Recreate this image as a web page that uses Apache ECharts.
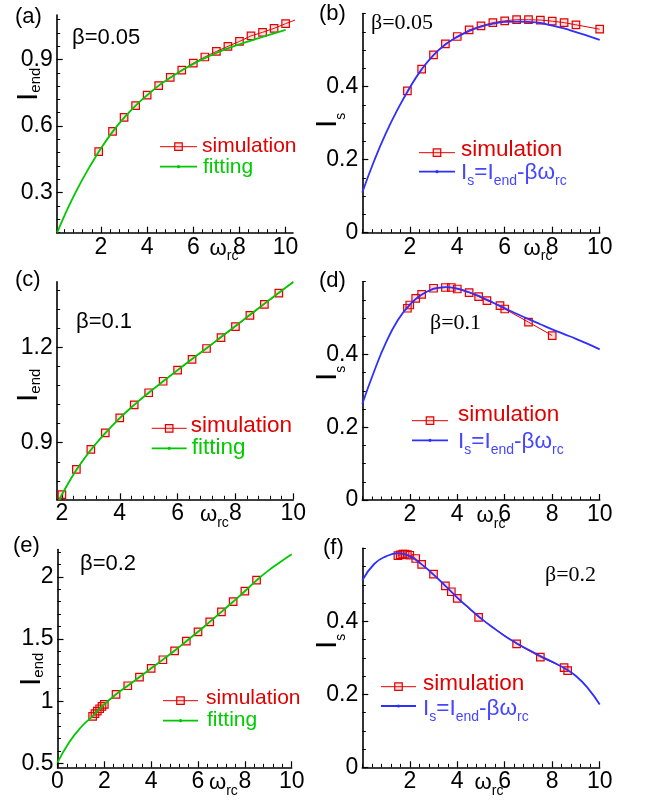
<!DOCTYPE html>
<html>
<head>
<meta charset="utf-8">
<script src="https://cdn.jsdelivr.net/npm/echarts@6/dist/echarts.min.js"></script>
<style>
  html, body { margin: 0; padding: 0; background: #fff; }
  #chart { width: 646px; height: 802px; }
</style>
</head>
<body>
<div id="chart"></div>
<script>
// ---------------- data ----------------
// (a) beta = 0.05 : I_end vs omega_rc
const simA_x = [1.9, 2.5, 3, 3.5, 4, 4.5, 5, 5.5, 6, 6.5, 7, 7.5, 8, 8.5, 9, 9.5, 10, 10.5];
const simA_y = [0.485, 0.576, 0.639, 0.692, 0.739, 0.782, 0.819, 0.852, 0.883, 0.911, 0.936, 0.959, 0.981, 1.006, 1.022, 1.040, 1.061, 1.081];
const fitA_x = [0.1, 0.5, 1, 1.5, 2, 2.5, 3, 3.5, 4, 4.5, 5, 5.5, 6, 6.5, 7, 7.5, 8, 8.5, 9, 9.5, 10];
const fitA_y = [0.12, 0.216, 0.322, 0.415, 0.500, 0.574, 0.637, 0.692, 0.739, 0.782, 0.818, 0.850, 0.880, 0.906, 0.929, 0.950, 0.968, 0.985, 1.001, 1.017, 1.033];

// (b) beta = 0.05 : I_s vs omega_rc
const simB_x = [1.9, 2.5, 3, 3.5, 4, 4.5, 5, 5.5, 6, 6.5, 7, 7.5, 8, 8.5, 9, 10];
const simB_y = [0.388, 0.448, 0.487, 0.517, 0.537, 0.555, 0.566, 0.575, 0.580, 0.583, 0.583, 0.582, 0.579, 0.575, 0.569, 0.557];
const fitB_x = [0, 0.5, 1, 1.5, 2, 2.5, 3, 3.5, 4, 4.5, 5, 5.5, 6, 6.5, 7, 7.5, 8, 8.5, 9, 9.5, 10];
const fitB_y = [0.110, 0.197, 0.273, 0.339, 0.397, 0.447, 0.486, 0.515, 0.536, 0.552, 0.564, 0.572, 0.577, 0.578, 0.577, 0.574, 0.567, 0.559, 0.549, 0.539, 0.528];

// (c) beta = 0.1 : I_end vs omega_rc
const simC_x = [1.9, 2.0, 2.5, 3, 3.5, 4, 4.5, 5, 5.5, 6, 6.5, 7, 7.5, 8, 8.5, 9, 9.5, 10];
const simC_y = [0.717, 0.737, 0.816, 0.879, 0.931, 0.978, 1.019, 1.057, 1.093, 1.128, 1.162, 1.196, 1.230, 1.265, 1.300, 1.335, 1.370, 1.407];
const fitC_x = [1.9, 2, 2.5, 3, 3.5, 4, 4.5, 5, 5.5, 6, 6.5, 7, 7.5, 8, 8.5, 9, 9.5, 10];
const fitC_y = [0.717, 0.737, 0.814, 0.877, 0.930, 0.977, 1.019, 1.057, 1.093, 1.128, 1.163, 1.197, 1.232, 1.267, 1.302, 1.337, 1.371, 1.405];

// (d) beta = 0.1 : I_s vs omega_rc
const simD_x = [1.9, 2.0, 2.25, 2.5, 3.0, 3.5, 3.75, 4.0, 4.5, 4.9, 5.25, 5.8, 6.0, 7.0, 8.0];
const simD_y = [0.527, 0.536, 0.554, 0.565, 0.582, 0.584, 0.584, 0.580, 0.570, 0.559, 0.548, 0.534, 0.525, 0.489, 0.452];
const fitD_x = [0, 0.5, 1, 1.5, 2, 2.5, 3, 3.5, 4, 4.5, 5, 5.5, 6, 6.5, 7, 7.5, 8, 8.5, 9, 9.5, 10];
const fitD_y = [0.264, 0.354, 0.433, 0.495, 0.537, 0.564, 0.580, 0.585, 0.581, 0.571, 0.558, 0.543, 0.527, 0.512, 0.497, 0.483, 0.469, 0.456, 0.443, 0.429, 0.414];

// (e) beta = 0.2 : I_end vs omega_rc
const simE_x = [1.5, 1.6, 1.7, 1.8, 1.9, 2.0, 2.5, 3, 3.5, 4, 4.5, 5, 5.5, 6, 6.5, 7, 7.5, 8, 8.5];
const simE_y = [0.878, 0.899, 0.920, 0.939, 0.958, 0.974, 1.055, 1.124, 1.194, 1.264, 1.333, 1.405, 1.483, 1.558, 1.638, 1.719, 1.800, 1.885, 1.973];
const fitE_x = [0, 0.5, 1, 1.5, 2, 2.5, 3, 3.5, 4, 4.5, 5, 5.5, 6, 6.5, 7, 7.5, 8, 8.5, 9, 9.5, 10];
const fitE_y = [0.505, 0.67, 0.79, 0.88, 0.975, 1.055, 1.124, 1.194, 1.264, 1.334, 1.405, 1.482, 1.558, 1.638, 1.718, 1.800, 1.884, 1.972, 2.05, 2.118, 2.182];

// (f) beta = 0.2 : I_s vs omega_rc
const simF_x = [1.5, 1.6, 1.7, 1.8, 1.9, 2.0, 2.25, 2.5, 3.0, 3.5, 3.75, 4.0, 4.9, 6.5, 7.5, 8.5, 8.65];
const simF_y = [0.580, 0.582, 0.584, 0.584, 0.583, 0.581, 0.572, 0.556, 0.529, 0.497, 0.481, 0.463, 0.411, 0.338, 0.302, 0.273, 0.265];
const fitF_x = [0, 0.5, 1, 1.5, 2, 2.5, 3, 3.5, 4, 4.5, 5, 5.5, 6, 6.5, 7, 7.5, 8, 8.5, 9, 9.5, 10];
const fitF_y = [0.512, 0.557, 0.578, 0.586, 0.578, 0.556, 0.528, 0.497, 0.465, 0.436, 0.408, 0.383, 0.360, 0.340, 0.322, 0.305, 0.289, 0.272, 0.250, 0.217, 0.172];

// tick labels
const xLabelsA = [2, 4, 6, 8, 10];
const yLabelsA = [0.3, 0.6, 0.9];
const xLabelsB = [2, 4, 6, 8, 10];
const yLabelsB = [0, 0.2, 0.4];
const xLabelsC = [2, 4, 6, 8, 10];
const yLabelsC = [0.9, 1.2];
const xLabelsD = [2, 4, 6, 8, 10];
const yLabelsD = [0, 0.2, 0.4];
const xLabelsE = [0, 2, 4, 6, 8, 10];
const yLabelsE = [0.5, 1, 1.5, 2];
const xLabelsF = [2, 4, 6, 8, 10];
const yLabelsF = [0, 0.2, 0.4];

const panelTags = ['(a)', '(b)', '(c)', '(d)', '(e)', '(f)'];
const betaTexts = ['\u03b2=0.05', '\u03b2=0.05', '\u03b2=0.1', '\u03b2=0.1', '\u03b2=0.2', '\u03b2=0.2'];

// ---------------- styling ----------------
const SANS = '"Liberation Sans", Arial, Helvetica, sans-serif';
const SERIF = '"Liberation Serif", "Times New Roman", serif';
const RED = '#e00000';
const GREEN = '#00c800';
const BLUE = '#2f2fff';
const BLUE_TXT = '#4646ff';

// panel frames, axis ranges and minor-tick steps
const panels = [
  { grid: { left: 56.7, top: 15, width: 236.3, height: 217.7 },  x: [0.08, 10.32], y: [0.12, 1.10],  xl: xLabelsA, yl: yLabelsA, xs: 0.4, ys: 0.06 },
  { grid: { left: 362.3, top: 13.5, width: 237.4, height: 219.2 }, x: [0, 10], y: [0, 0.6],        xl: xLabelsB, yl: yLabelsB, xs: 0.4, ys: 0.05 },
  { grid: { left: 56.7, top: 281.7, width: 236.6, height: 217.6 }, x: [1.82, 10], y: [0.722, 1.406], xl: xLabelsC, yl: yLabelsC, xs: 0.4, ys: 0.06 },
  { grid: { left: 362.3, top: 281.7, width: 237.4, height: 218.3 }, x: [0, 10], y: [0, 0.6],        xl: xLabelsD, yl: yLabelsD, xs: 0.4, ys: 0.05 },
  { grid: { left: 57.5, top: 549.5, width: 234.2, height: 217.8 }, x: [0, 10], y: [0.468, 2.22],   xl: xLabelsE, yl: yLabelsE, xs: 0.4, ys: 0.1 },
  { grid: { left: 362.3, top: 548.3, width: 237.4, height: 219 },  x: [0, 10], y: [0, 0.6],        xl: xLabelsF, yl: yLabelsF, xs: 0.4, ys: 0.05 }
];

function stepValues(min, max, step) {
  const out = [];
  for (let k = Math.ceil(min / step - 1e-6); k * step <= max + 1e-9; k++) {
    out.push(Math.round(k * step * 1e6) / 1e6);
  }
  return out;
}

function makeAxes(isX, gi, p) {
  const range = isX ? p.x : p.y;
  const labels = isX ? p.xl : p.yl;
  const step = isX ? p.xs : p.ys;
  const base = {
    type: 'value', gridIndex: gi, min: range[0], max: range[1],
    position: isX ? 'bottom' : 'left', splitLine: { show: false }
  };
  const major = Object.assign({}, base, {
    axisLine: { show: true, onZero: false, lineStyle: { color: '#000', width: 1.6 } },
    axisTick: { show: true, inside: true, length: 6, customValues: labels, lineStyle: { color: '#000', width: 1.2 } },
    axisLabel: {
      show: true, customValues: labels, margin: isX ? 3 : 4,
      color: '#000', fontSize: 23, fontFamily: SANS,
      formatter: function (v) { return String(v); }
    }
  });
  const minor = Object.assign({}, base, {
    axisLine: { show: false, onZero: false },
    axisTick: { show: true, inside: true, length: 3.5, customValues: stepValues(range[0], range[1], step), lineStyle: { color: '#000', width: 1 } },
    axisLabel: { show: false }
  });
  return [major, minor];
}

const xAxes = [], yAxes = [];
panels.forEach(function (p, i) {
  xAxes.push.apply(xAxes, makeAxes(true, i, p));
  yAxes.push.apply(yAxes, makeAxes(false, i, p));
});

function pairs(xs, ys) { return xs.map(function (x, i) { return [x, ys[i]]; }); }

function simSeries(gi, xs, ys) {
  return {
    type: 'line', name: 'simulation', xAxisIndex: 2 * gi, yAxisIndex: 2 * gi,
    data: pairs(xs, ys), symbol: 'rect', symbolSize: 7.5, clip: true,
    lineStyle: { color: RED, width: 1 },
    itemStyle: { color: 'rgba(255,90,90,0.18)', borderColor: RED, borderWidth: 1.2 },
    emphasis: { disabled: true }, z: 2
  };
}
function fitSeries(gi, xs, ys, color, name) {
  return {
    type: 'line', name: name, xAxisIndex: 2 * gi, yAxisIndex: 2 * gi,
    data: pairs(xs, ys), smooth: true, symbol: 'none', clip: true,
    lineStyle: { color: color, width: 1.8 },
    emphasis: { disabled: true }, z: 3
  };
}

const series = [
  simSeries(0, simA_x, simA_y), fitSeries(0, fitA_x, fitA_y, GREEN, 'fitting'),
  simSeries(1, simB_x, simB_y), fitSeries(1, fitB_x, fitB_y, BLUE, 'Is'),
  simSeries(2, simC_x, simC_y), fitSeries(2, fitC_x, fitC_y, GREEN, 'fitting'),
  simSeries(3, simD_x, simD_y), fitSeries(3, fitD_x, fitD_y, BLUE, 'Is'),
  simSeries(4, simE_x, simE_y), fitSeries(4, fitE_x, fitE_y, GREEN, 'fitting'),
  simSeries(5, simF_x, simF_y), fitSeries(5, fitF_x, fitF_y, BLUE, 'Is')
];

// ---------------- text helpers ----------------
const measureCtx = document.createElement('canvas').getContext('2d');
function textWidth(t, size, fam) {
  measureCtx.font = size + 'px ' + fam;
  return measureCtx.measureText(t).width;
}
// pieces share one baseline (local y = 0); dy shifts subscripts down
function runChildren(pieces, color, fam) {
  const out = [];
  let cx = 0;
  pieces.forEach(function (p) {
    out.push({
      type: 'text', x: cx, y: (p.dy || 0) - 0.35 * p.size, silent: true,
      style: { text: p.t, fill: color, font: p.size + 'px ' + fam, align: 'left', verticalAlign: 'middle' }
    });
    cx += textWidth(p.t, p.size, fam);
  });
  return out;
}
function textRun(x, baseline, pieces, color, fam) {
  return { type: 'group', x: x, y: baseline, children: runChildren(pieces, color, fam) };
}
function verticalRun(xBase, yStart, pieces, color, fam) {
  return { type: 'group', x: xBase, y: yStart, rotation: Math.PI / 2, children: runChildren(pieces, color, fam) };
}
function plainText(x, yMid, t, size, fam, color) {
  return { type: 'text', x: x, y: yMid, silent: true,
    style: { text: t, fill: color || '#000', font: size + 'px ' + fam, align: 'left', verticalAlign: 'middle' } };
}

const graphics = [];

// panel tags
[[15, 16.5], [319, 14], [15, 280], [319, 281], [13, 546], [323, 548]].forEach(function (pos, i) {
  graphics.push(plainText(pos[0], pos[1], panelTags[i], 22, SANS));
});

// beta annotations
graphics.push(plainText(72, 37.5, betaTexts[0], 22, SANS));
graphics.push(plainText(371, 23, betaTexts[1], 22, SERIF));
graphics.push(plainText(76, 322, betaTexts[2], 22, SANS));
graphics.push(plainText(430, 323, betaTexts[3], 22, SERIF));
graphics.push(plainText(80, 563.5, betaTexts[4], 22, SANS));
graphics.push(plainText(545, 575, betaTexts[5], 22, SERIF));

// x-axis titles: omega_rc
function omegaTitle(left, axisY) {
  return textRun(left, axisY + 23.7, [{ t: '\u03c9', size: 22 }, { t: 'rc', size: 14, dy: 5 }], '#000', SANS);
}
[[209.6, 232.7], [523.6, 232.7], [200, 499.3], [476.6, 500], [209, 767.3], [474.6, 767.3]].forEach(function (q) {
  graphics.push(omegaTitle(q[0], q[1]));
});

// y-axis titles
const endTitle = [{ t: 'I', size: 30 }, { t: 'end', size: 15, dy: 2 }];
const sTitle = [{ t: 'I', size: 30 }, { t: 's', size: 14, dy: 8 }];
graphics.push(verticalRun(39, 101, endTitle, '#000', SANS));
graphics.push(verticalRun(39, 402, endTitle, '#000', SANS));
graphics.push(verticalRun(42, 686, endTitle, '#000', SANS));
graphics.push(verticalRun(338, 128, sTitle, '#000', SANS));
graphics.push(verticalRun(338, 381, sTitle, '#000', SANS));
graphics.push(verticalRun(338, 649, sTitle, '#000', SANS));

// legends
function legendLine(x1, x2, y, color, width) {
  return { type: 'line', silent: true, shape: { x1: x1, y1: y, x2: x2, y2: y }, style: { stroke: color, lineWidth: width } };
}
function legendSquare(cx, cy) {
  return { type: 'rect', silent: true, shape: { x: cx - 3.75, y: cy - 3.75, width: 7.5, height: 7.5 },
    style: { fill: 'rgba(255,90,90,0.18)', stroke: RED, lineWidth: 1.2 } };
}
function legendDot(cx, cy, color) {
  return { type: 'circle', silent: true, shape: { cx: cx, cy: cy, r: 1.6 }, style: { fill: color } };
}
const blueLabel = function (size) {
  return [
    { t: 'I', size: size }, { t: 's', size: 14, dy: 5.5 },
    { t: '=I', size: size }, { t: 'end', size: 14, dy: 5.5 },
    { t: '-\u03b2\u03c9', size: size }, { t: 'rc', size: 14, dy: 5.5 }
  ];
};
// entries: [lineX1, lineX2, redY, otherY, textLeft, simMid, otherMid, fontSize, kind]
const legends = [
  [160, 197, 146.7, 166.7, 202, 146, 167, 21, 'fit'],
  [419, 455, 152.7, 171.7, 461, 150, 172.5, 22.5, 'is'],
  [151.7, 186.7, 428.3, 448.3, 190.7, 426, 447.3, 22.5, 'fit'],
  [412, 448, 420.7, 440.3, 458, 415, 441.7, 22.5, 'is'],
  [163, 198, 700.7, 720.7, 206, 698.3, 720, 21, 'fit'],
  [381, 416, 686.7, 706, 423, 684, 708.3, 22.5, 'is']
];
legends.forEach(function (L) {
  const mid = (L[0] + L[1]) / 2;
  const otherColor = L[8] === 'fit' ? GREEN : BLUE;
  graphics.push(legendLine(L[0], L[1], L[2], RED, 1));
  graphics.push(legendSquare(mid, L[2]));
  graphics.push(plainText(L[4], L[5], 'simulation', L[7], SANS, RED));
  graphics.push(legendLine(L[0], L[1], L[3], otherColor, 1.8));
  graphics.push(legendDot(mid, L[3], otherColor));
  if (L[8] === 'fit') {
    graphics.push(plainText(L[4] + 1, L[6], 'fitting', L[7], SANS, '#00cc00'));
  } else {
    graphics.push(textRun(L[4], L[6] + 0.35 * L[7], blueLabel(L[7]), BLUE_TXT, SANS));
  }
});

const chart = echarts.init(document.getElementById('chart'), null, { renderer: 'canvas' });
chart.setOption({
  animation: false,
  backgroundColor: '#fff',
  grid: panels.map(function (p) { return Object.assign({ containLabel: false, outerBoundsMode: 'none' }, p.grid); }),
  xAxis: xAxes,
  yAxis: yAxes,
  series: series,
  graphic: { elements: graphics }
});
</script>
</body>
</html>
